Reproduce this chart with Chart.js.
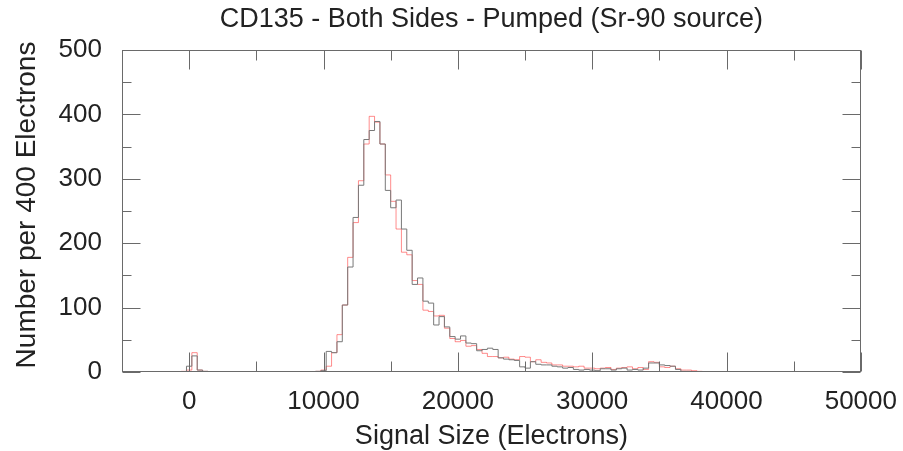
<!DOCTYPE html>
<html>
<head>
<meta charset="utf-8">
<script src="https://cdn.jsdelivr.net/npm/chart.js@4.4.0/dist/chart.umd.min.js"></script>
<style>
  html, body { margin: 0; padding: 0; background: #fff; }
  #wrap { width: 903px; height: 451px; position: relative; }
</style>
</head>
<body>
<div id="wrap"><canvas id="chartCanvas"></canvas></div>
<script>
// Гистограмма: бины по 400 электронов, первый центр бина -1200
const binFirstCenter = -1200;
const binWidth = 400;

// серая серия
const grayCounts = [
  0, 0, 9, 25, 3, 1, 0, 0, 0, 0,
  0, 0, 0, 0, 0, 0, 0, 0, 0, 0,
  0, 0, 0, 0, 0, 0, 1, 2, 32, 30,
  47, 104, 163, 240, 290, 361, 375, 389, 354, 282,
  255, 267, 222, 189, 136, 146, 110, 107, 73, 86,
  70, 55, 51, 56, 45, 44, 33, 35, 37, 35,
  22, 20, 19, 18, 8, 6, 16, 12, 11, 11,
  9, 8, 6, 7, 4, 3, 4, 3, 2, 5,
  5, 3, 5, 6, 3, 4, 3, 6, 14, 14,
  11, 10, 9, 4, 1, 1, 0, 0, 0, 0,
  0, 0, 0, 0, 0, 0, 0, 0, 0, 0,
  0, 0, 0, 0, 0, 0, 0, 0, 0, 0,
  0, 0, 0, 0, 0
];

// красная серия
const redCounts = [
  0, 1, 3, 30, 3, 1, 0, 0, 0, 0,
  0, 0, 0, 0, 0, 0, 0, 0, 0, 0,
  0, 0, 0, 0, 0, 0, 1, 3, 9, 30,
  58, 104, 178, 232, 297, 354, 397, 388, 354, 306,
  265, 222, 186, 182, 142, 136, 96, 94, 87, 88,
  68, 52, 47, 49, 40, 41, 35, 29, 24, 24,
  22, 23, 20, 19, 24, 23, 16, 19, 15, 14,
  11, 11, 9, 9, 8, 9, 6, 6, 5, 6,
  7, 4, 6, 7, 8, 5, 7, 4, 16, 15,
  8, 7, 9, 5, 3, 3, 2, 1, 0, 0,
  0, 0, 0, 0, 0, 0, 0, 0, 0, 0,
  0, 0, 0, 0, 0, 0, 0, 0, 0, 0,
  0, 0, 0, 0, 0
];

const xLabelTicks = [0, 10000, 20000, 30000, 40000, 50000];
const xMinorTicks = [-5000, 5000, 15000, 25000, 35000, 45000];
const yLabelTicks = [0, 100, 200, 300, 400, 500];
const yMinorTicks = [50, 150, 250, 350, 450];

const chartTitle = "CD135 - Both Sides - Pumped (Sr-90 source)";
const xTitle = "Signal Size (Electrons)";
const yTitle = "Number per 400 Electrons";

const FONT = '"Liberation Sans", Arial, Helvetica, sans-serif';
const TEXT_COLOR = "#222";

// точки ступенек: левый край каждого бина + правый край последнего
const toSteps = (counts) => {
  const pts = [{ x: binFirstCenter - binWidth / 2, y: counts[0] }];
  counts.forEach((c, i) => {
    pts.push({ x: binFirstCenter + i * binWidth + binWidth / 2, y: c });
  });
  return pts;
};

// рамка, засечки, заголовки
const frameTicks = {
  id: "frameTicks",
  afterDraw(chart) {
    const { ctx, chartArea: a, scales } = chart;
    const x = scales.x, y = scales.y;
    const L = Math.round(a.left) + 0.5, R = Math.round(a.right) - 0.5;
    const T = Math.round(a.top) + 0.5, B = Math.round(a.bottom) - 0.5;
    ctx.save();
    ctx.strokeStyle = "#6a6a6a";
    ctx.lineWidth = 1;
    ctx.strokeRect(L, T, R - L, B - T);
    ctx.beginPath();
    const xt = (v, len) => {
      const p = Math.round(x.getPixelForValue(v)) + 0.5;
      ctx.moveTo(p, B); ctx.lineTo(p, B - len);
      ctx.moveTo(p, T); ctx.lineTo(p, T + len);
    };
    const yt = (v, len) => {
      const p = Math.round(y.getPixelForValue(v)) + 0.5;
      ctx.moveTo(L, p); ctx.lineTo(L + len, p);
      ctx.moveTo(R, p); ctx.lineTo(R - len, p);
    };
    xLabelTicks.forEach((v) => xt(v, 19));
    xMinorTicks.forEach((v) => xt(v, 10));
    yLabelTicks.forEach((v) => yt(v, 18));
    yMinorTicks.forEach((v) => yt(v, 9));
    ctx.stroke();

    const cx = (a.left + a.right) / 2;
    ctx.fillStyle = TEXT_COLOR;
    ctx.textAlign = "center";
    ctx.textBaseline = "middle";
    ctx.font = "27px " + FONT;
    ctx.fillText(chartTitle, cx, 20);
    ctx.fillText(xTitle, cx, 437);

    ctx.translate(27, 205);
    ctx.rotate(-Math.PI / 2);
    ctx.font = "28px " + FONT;
    ctx.fillText(yTitle, 0, 0);
    ctx.restore();
  },
};

const ctx = document.getElementById("chartCanvas").getContext("2d");

new Chart(ctx, {
  type: "line",
  data: {
    datasets: [
      {
        data: toSteps(grayCounts),
        borderColor: "rgb(120,120,120)",
        borderWidth: 1,
        stepped: "before",
        pointRadius: 0,
        fill: false,
      },
      {
        data: toSteps(redCounts),
        borderColor: "rgba(255,0,0,0.45)",
        borderWidth: 1,
        stepped: "before",
        pointRadius: 0,
        fill: false,
      },
    ],
  },
  options: {
    responsive: true,
    maintainAspectRatio: false,
    animation: false,
    devicePixelRatio: 1,
    layout: { padding: { top: 50, right: 37, left: 0, bottom: 0 } },
    plugins: {
      legend: { display: false },
      tooltip: { enabled: false },
    },
    scales: {
      x: {
        type: "linear",
        min: -5000,
        max: 50000,
        afterBuildTicks: (s) => { s.ticks = xLabelTicks.map((v) => ({ value: v })); },
        afterFit: (s) => { s.height = 79; },
        grid: { display: false },
        border: { display: false },
        ticks: {
          color: TEXT_COLOR,
          font: { family: FONT, size: 26 },
          padding: 6,
          maxRotation: 0,
          autoSkip: false,
          callback: (v) => String(v),
        },
      },
      y: {
        min: 0,
        max: 500,
        afterBuildTicks: (s) => { s.ticks = yLabelTicks.map((v) => ({ value: v })); },
        afterFit: (s) => { s.width = 122; },
        grid: { display: false },
        border: { display: false },
        ticks: {
          color: TEXT_COLOR,
          font: { family: FONT, size: 26 },
          padding: 12,
          callback: (v) => String(v),
        },
      },
    },
  },
  plugins: [frameTicks],
});
</script>
</body>
</html>
